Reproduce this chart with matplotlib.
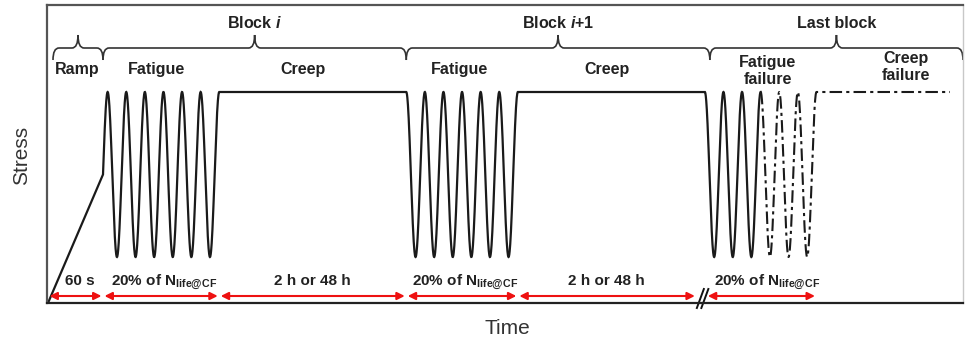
import numpy as np
import matplotlib.pyplot as plt
from matplotlib.path import Path
from matplotlib.patches import PathPatch

plt.rcParams['font.family'] = ['Liberation Sans', 'DejaVu Sans']
plt.rcParams['mathtext.fontset'] = 'custom'
plt.rcParams['mathtext.rm'] = 'Liberation Sans:bold'
plt.rcParams['mathtext.it'] = 'Liberation Sans:bold:italic'
plt.rcParams['mathtext.bf'] = 'Liberation Sans:bold'

# --- schematic loading history (arbitrary units) ---
stress_max = 211
stress_min = 46
t_start = 1
t_ramp = 55
cycle_period = 18.6
cycles_per_block = 6
creep_durations = [187, 187]      # block i, block i+1 (cut by the axis break)
failure_cycles_solid = 3
failure_cycles_dashed = 3
t_end = 903

phase_labels = ["Ramp", "Fatigue", "Creep", "Fatigue", "Creep",
                "Fatigue\nfailure", "Creep\nfailure"]
block_labels = ["Block $i$", "Block $i$+1", "Last block"]
fat_lbl = r"20% of N$_\mathrm{life@CF}$"
span_labels = ["60 s", fat_lbl, "2 h or 48 h", fat_lbl, "2 h or 48 h", fat_lbl]

# label placement (layout only)
phase_label_x = [30, 110, 256, 413, 560, 721, 859]
phase_label_y = [229, 229, 229, 229, 229, 232, 236]
span_label_x = [33, 117, 265, 418, 559, 720]

s_mean = (stress_max + stress_min) / 2
amp = (stress_max - stress_min) / 2


def cycles(t0, ph0, ph1):
    ph = np.linspace(ph0, ph1, 600)
    return t0 + (ph - ph0) / (2 * np.pi) * cycle_period, s_mean + amp * np.sin(ph)


# build the waveform
ramp_t = np.array([t_start, t_start + t_ramp])
ramp_s = np.array([0, s_mean])
f1_t, f1_s = cycles(ramp_t[-1], 0, 2 * np.pi * cycles_per_block + np.pi / 2)
c1_t = np.array([f1_t[-1], f1_t[-1] + creep_durations[0]])
c1_s = np.array([stress_max, stress_max])
f2_t, f2_s = cycles(c1_t[-1], np.pi / 2, np.pi / 2 + 2 * np.pi * cycles_per_block)
c2_t = np.array([f2_t[-1], f2_t[-1] + creep_durations[1]])
c2_s = np.array([stress_max, stress_max])
f3_t, f3_s = cycles(c2_t[-1], np.pi / 2, np.pi / 2 + 2 * np.pi * failure_cycles_solid)
f4_t, f4_s = cycles(f3_t[-1], np.pi / 2, np.pi / 2 + 2 * np.pi * failure_cycles_dashed)
c3_t = np.array([f4_t[-1], t_end])
c3_s = np.array([stress_max, stress_max])

solid_t = np.concatenate([ramp_t, f1_t, c1_t, f2_t, c2_t, f3_t])
solid_s = np.concatenate([ramp_s, f1_s, c1_s, f2_s, c2_s, f3_s])
dash_t = np.concatenate([f4_t, c3_t])
dash_s = np.concatenate([f4_s, c3_s])

edges = [t_start, ramp_t[-1], f1_t[-1], c1_t[-1], f2_t[-1], c2_t[-1], f4_t[-1]]

W, H = 966, 343
fig = plt.figure(figsize=(W / 100, H / 100), dpi=100)
ax = fig.add_axes([47 / W, (H - 303) / H, (963 - 47) / W, (303 - 5) / H])
ax.set_xlim(0, 916)
ax.set_ylim(0, 298)
ax.set_xticks([])
ax.set_yticks([])
for side in ["top", "left"]:
    ax.spines[side].set_color("#555555")
    ax.spines[side].set_linewidth(1.6)
ax.spines["bottom"].set_color("#222222")
ax.spines["bottom"].set_linewidth(1.6)
ax.spines["right"].set_color("#c8c8c8")
ax.spines["right"].set_linewidth(1.0)

line_col = "#1a1a1a"
ax.plot(solid_t, solid_s, color=line_col, lw=1.6, solid_joinstyle="miter")
ax.plot(dash_t, dash_s, color=line_col, lw=1.5, linestyle=(0, (6, 2, 1.5, 2)))

# red span arrows
arrow_y = 7
gap = 1.5
spans = [(edges[i] + gap, edges[i + 1] - gap) for i in range(len(edges) - 1)]
break_t = c2_t[-1] - 4
spans[4] = (spans[4][0], break_t - 6)
spans[5] = (c2_t[-1] + 3, spans[5][1])
for (a, b) in spans:
    ax.annotate("", xy=(b, arrow_y), xytext=(a, arrow_y),
                arrowprops=dict(arrowstyle="<|-|>", color="#ee1111", lw=1.5,
                                shrinkA=0, shrinkB=0, mutation_scale=11))

for x, lbl in zip(span_label_x, span_labels):
    ax.text(x, 18, lbl, ha="center", va="baseline", fontsize=11,
            fontweight="bold", color="#222222")

# axis break mark
for dx in (0, 4.5):
    ax.plot([break_t - 4 + dx, break_t + 3 + dx], [-5, 14], color="#111111",
            lw=1.4, clip_on=False)

# phase labels
for x, y, lbl in zip(phase_label_x, phase_label_y, phase_labels):
    va = "baseline" if "\n" not in lbl else "center"
    ax.text(x, y, lbl, ha="center", va=va, fontsize=11.5, fontweight="bold",
            color="#222222", linespacing=1.15)


# curly braces
def brace(x0, x1, y, hook=12, tip=13, r=6):
    xm = (x0 + x1) / 2
    verts = [(x0, y - hook), (x0, y), (x0 + r, y),
             (xm - r, y), (xm, y), (xm, y + tip),
             (xm, y), (xm + r, y),
             (x1 - r, y), (x1, y), (x1, y - hook)]
    codes = [Path.MOVETO, Path.CURVE3, Path.CURVE3,
             Path.LINETO, Path.CURVE3, Path.CURVE3,
             Path.CURVE3, Path.CURVE3,
             Path.LINETO, Path.CURVE3, Path.CURVE3]
    ax.add_patch(PathPatch(Path(verts, codes), facecolor="none",
                           edgecolor="#333333", lw=1.2, clip_on=False))
    return xm


brace_y = 255
brace(t_start + 5, edges[1], brace_y)
block_spans = [(edges[1], edges[3]), (edges[3], c2_t[-1] + 5), (c2_t[-1] + 5, 916)]
for (a, b), lbl in zip(block_spans, block_labels):
    xm = brace(a, b, brace_y)
    ax.text(xm, 275, lbl, ha="center", va="baseline", fontsize=11.5,
            fontweight="bold", color="#222222")

fig.text(22 / W, 1 - 155 / H, "Stress", rotation=90, ha="center", va="center",
         fontsize=15, color="#333333")
fig.text(507 / W, 1 - 328 / H, "Time", ha="center", va="center",
         fontsize=15, color="#333333")

plt.savefig("out.png", dpi=100)
plt.close()
